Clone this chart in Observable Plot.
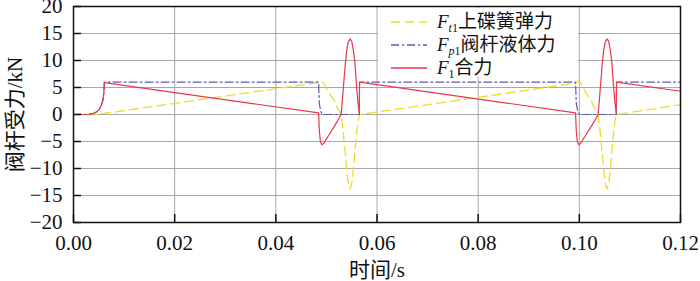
<!DOCTYPE html>
<html>
<head>
<meta charset="utf-8">
<script src="https://cdn.jsdelivr.net/npm/d3@7"></script>
<script src="https://cdn.jsdelivr.net/npm/@observablehq/plot@0.6"></script>
<style>
  html, body { margin: 0; padding: 0; background: #fff; }
  #wrap { position: relative; width: 700px; height: 281px; font-family: "Liberation Serif", "Times New Roman", "Noto Sans CJK SC", serif; }
  #wrap svg, #wrap svg text, #wrap svg tspan { font-family: "Liberation Serif", "Times New Roman", "Noto Sans CJK SC", serif !important; }
  #legend { position: absolute; left: 378px; top: 8px; width: 200px; height: 69px; background: #fff; }
  .row { position: absolute; left: 0; height: 22px; line-height: 22px; display: flex; align-items: center; font-size: 19px; color: #111; white-space: nowrap; }
  .row svg { margin-left: 13px; margin-right: 10px; }
  .row i { font-style: italic; }
  .row sub { font-size: 12px; vertical-align: -4px; line-height: 0; }
</style>
</head>
<body>
<div id="wrap"></div>
<script>
// X ticks (s) and Y ticks (kN)
const xTicks = [0, 0.02, 0.04, 0.06, 0.08, 0.10, 0.12];
const yTicks = [-20, -15, -10, -5, 0, 5, 10, 15, 20];

// F_t1 上碟簧弹力 (yellow dashed)
const ft1T = [0, 0.0045, 0.04845, 0.0490, 0.0495, 0.0500, 0.0506, 0.0515, 0.0522, 0.0529, 0.0533, 0.0537, 0.0541, 0.0544, 0.0547, 0.0550, 0.0554, 0.0558, 0.0562, 0.05655,
              0.09925, 0.0998, 0.1003, 0.1008, 0.1014, 0.1023, 0.1030, 0.1037, 0.1041, 0.1045, 0.1049, 0.1052, 0.1055, 0.1058, 0.1062, 0.1066, 0.1070, 0.10735, 0.12];
const ft1F = [0, 0, 5.9, 6.2, 5.8, 4.9, 3.9, 2.6, 1.2, 0, -3, -7, -11, -13.2, -13.8, -12.8, -9.5, -5, -1.5, 0,
              5.8, 6.2, 5.8, 4.9, 3.9, 2.6, 1.2, 0, -3, -7, -11, -13.2, -13.8, -12.8, -9.5, -5, -1.5, 0, 1.8];

// F_p1 阀杆液体力 (blue dash-dot)
const fp1T = [0, 0.0030, 0.0040, 0.0046, 0.0051, 0.0055, 0.0058, 0.0060, 0.0061, 0.04845, 0.0486, 0.0489, 0.0492, 0.0565, 0.05655,
              0.09925, 0.0994, 0.0997, 0.1000, 0.1073, 0.10735, 0.12];
const fp1F = [0, 0.05, 0.2, 0.5, 1.0, 1.7, 2.6, 4.0, 6.0, 6.0, 2.0, 0.5, 0, 0, 6.0,
              6.0, 2.0, 0.5, 0, 0, 6.0, 6.0];

// F_1 合力 (red solid)
const f1T = [0, 0.0030, 0.0040, 0.0046, 0.0051, 0.0055, 0.0058, 0.0060, 0.0061, 0.04845, 0.0486, 0.0488, 0.0491, 0.0495, 0.0500, 0.0505, 0.0510, 0.0515, 0.0520, 0.0525, 0.0529,
             0.0531, 0.0534, 0.0537, 0.0540, 0.0543, 0.0547, 0.0550, 0.0553, 0.0556, 0.0559, 0.0562, 0.0565, 0.05655,
             0.09925, 0.0994, 0.0996, 0.0999, 0.1003, 0.1008, 0.1013, 0.1018, 0.1023, 0.1028, 0.1033, 0.1037,
             0.1039, 0.1042, 0.1045, 0.1048, 0.1051, 0.1055, 0.1058, 0.1061, 0.1064, 0.1067, 0.1070, 0.1073, 0.10735, 0.12];
const f1F = [0, 0.05, 0.2, 0.5, 1.0, 1.7, 2.6, 4.0, 5.9, 0.3, -3, -5, -5.6, -5.3, -4.5, -3.8, -3.0, -2.3, -1.5, -0.7, 0,
             2, 5.5, 9, 11.8, 13.4, 14.0, 13.6, 12.0, 10.0, 6.0, 2.5, 0.3, 6.0,
             0.3, -3, -5, -5.6, -5.3, -4.5, -3.8, -3.0, -2.3, -1.5, -0.7, 0,
             2, 5.5, 9, 11.8, 13.4, 14.0, 13.6, 12.0, 10.0, 6.0, 2.5, 0.3, 6.0, 4.3];

const toRows = (T, F) => T.map((t, i) => ({t, F: F[i]}));
const ft1 = toRows(ft1T, ft1F);
const fp1 = toRows(fp1T, fp1F);
const f1 = toRows(f1T, f1F);

const C_Y = "#efdc2a", C_B = "#5c5cb4", C_R = "#e8384a";

const chart = Plot.plot({
  width: 700,
  height: 281,
  marginLeft: 73,
  marginRight: 20,
  marginTop: 6,
  marginBottom: 59,
  style: { fontSize: "21px", background: "#fff", color: "#111" },
  x: { domain: [0, 0.12] },
  y: { domain: [-20, 20] },
  marks: [
    Plot.gridY(yTicks, { stroke: "#a8a8a8", strokeOpacity: 1, strokeWidth: 1 }),
    Plot.gridX(xTicks, { stroke: "#a8a8a8", strokeOpacity: 1, strokeWidth: 1 }),
    Plot.line(ft1, { x: "t", y: "F", stroke: C_Y, strokeWidth: 1.3, strokeDasharray: "9,5" }),
    Plot.line(fp1, { x: "t", y: "F", stroke: C_B, strokeWidth: 1.2, strokeDasharray: "8,3,2,3" }),
    Plot.line(f1, { x: "t", y: "F", stroke: C_R, strokeWidth: 1.2 }),
    Plot.axisX(xTicks, { tickFormat: d3.format(".2f"), tickSize: -8, tickPadding: 21, strokeWidth: 1.5, color: "#111",
      fontSize: 21,
      label: "时间/s", labelAnchor: "center", labelOffset: 54, labelArrow: "none" }),
    Plot.axisY(yTicks, { tickFormat: d3.format("d"), tickSize: -8, tickPadding: 19, strokeWidth: 1.5, color: "#111",
      fontSize: 21,
      label: "阀杆受力/kN", labelAnchor: "center", labelOffset: 66, labelArrow: "none" }),
    Plot.frame({ stroke: "#111", strokeWidth: 1.5 })
  ]
});

const wrap = document.getElementById("wrap");
wrap.appendChild(chart);

// Legend (inside plot, top-right)
const legendItems = [
  { sub: "t1", subItalic: true, name: "上碟簧弹力", color: C_Y, dash: "9,5" },
  { sub: "p1", subItalic: true, name: "阀杆液体力", color: C_B, dash: "8,3,2,3" },
  { sub: "1", subItalic: false, name: "合力", color: C_R, dash: null }
];
const legend = document.createElement("div");
legend.id = "legend";
legendItems.forEach((d, i) => {
  const row = document.createElement("div");
  row.className = "row";
  row.style.top = (3 + i * 23) + "px";
  const subHtml = d.subItalic
    ? `<sub><i>${d.sub[0]}</i>${d.sub.slice(1)}</sub>`
    : `<sub>${d.sub}</sub>`;
  row.innerHTML = `<svg width="36" height="10"><line x1="0" y1="5" x2="36" y2="5" stroke="${d.color}" stroke-width="1.5" ${d.dash ? `stroke-dasharray="${d.dash}"` : ""}/></svg><span><i>F</i>${subHtml}${d.name}</span>`;
  legend.appendChild(row);
});
wrap.appendChild(legend);
</script>
</body>
</html>
